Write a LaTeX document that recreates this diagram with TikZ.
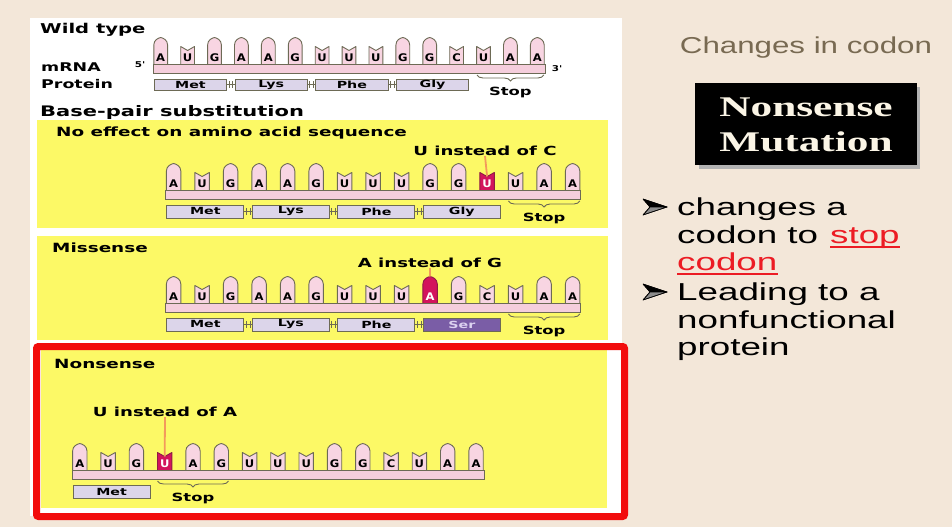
\documentclass[tikz,border=0pt]{standalone}
\usepackage{fontspec}
\usepackage{graphicx}
\setmainfont{Liberation Sans}
\newfontfamily\figfont{DejaVu Sans}
\newfontfamily\titleserif{Liberation Serif}
\usetikzlibrary{decorations.pathreplacing}

\definecolor{pagebg}{HTML}{F3E7D9}
\definecolor{panelyellow}{HTML}{FCF966}
\definecolor{framered}{HTML}{F20D0D}
\definecolor{ntpink}{HTML}{F8D5E2}
\definecolor{barpink}{HTML}{F5CEDC}
\definecolor{ntedge}{HTML}{6D6A55}
\definecolor{protfill}{HTML}{DCD5EA}
\definecolor{serfill}{HTML}{7A5DA6}
\definecolor{sertext}{HTML}{DCD2F0}
\definecolor{hotbase}{HTML}{D3145C}
\definecolor{hotedge}{HTML}{8E1B45}
\definecolor{pointer}{HTML}{F39A5C}
\definecolor{headbrown}{HTML}{786A52}
\definecolor{stopred}{HTML}{EC1C24}
\definecolor{cream}{HTML}{FBF5E6}

% horizontal stretch of a piece of text
\newcommand{\sx}[2]{\scalebox{#1}[1]{#2}}

\tikzset{
  figbold/.style={inner sep=0pt, font=\figfont\bfseries\fontsize{#1}{#1}\selectfont},
  header/.style={figbold=13.5, anchor=west},
  rowlab/.style={figbold=12, anchor=west},
  paneltitle/.style={figbold=12.7, anchor=west},
  ptrlab/.style={figbold=12.5},
  endlab/.style={figbold=8},
  ntletter/.style={figbold=10.5},
  stoplab/.style={figbold=11.3},
  ntline/.style={line width=0.9pt, line join=round},
  barline/.style={draw=ntedge, fill=barpink, line width=0.9pt},
  protbox/.style={draw=ntedge, fill=protfill, line width=0.9pt, inner sep=0pt,
                  font=\figfont\bfseries\fontsize{9.8}{9.8}\selectfont},
  serbox/.style={protbox, fill=serfill, text=sertext},
  link/.style={draw=ntedge, line width=0.8pt},
  stopbrace/.style={draw=ntedge, line width=0.9pt, decorate,
                    decoration={brace, amplitude=6pt}},
  pointerline/.style={draw=pointer, line width=1.8pt},
  bullettext/.style={inner sep=0pt, anchor=base west,
                     font=\fontsize{24.5}{28}\selectfont},
  arrowtop/.style={fill=black, draw=black, line width=0.6pt, line join=round},
  arrowlow/.style={fill=black!45, draw=black, line width=0.6pt, line join=round},
}

% one mRNA strand: #1 prefix, #2 first centre x, #3 pitch, #4 bar top y,
% #5 half width of a base, #6 highlighted base (0 = none), #7 letter/type list
\newcommand{\strand}[7]{%
  \foreach \ntl/\ty [count=\i] in {#7} {%
    \pgfmathsetmacro{\cx}{#2+(\i-1)*#3}%
    \ifnum\i=#6\relax
      \def\ntfill{hotbase}\def\ntdraw{hotedge}\def\nttext{white}%
    \else
      \def\ntfill{ntpink}\def\ntdraw{ntedge}\def\nttext{black}%
    \fi
    \ifnum\ty=1\relax
      \draw[ntline, draw=\ntdraw, fill=\ntfill] ({\cx-#5},#4) -- ({\cx-#5},#4-19)
        .. controls ({\cx-#5},#4-24) and ({\cx-2.5},#4-26) .. (\cx,#4-26.5)
        .. controls ({\cx+2.5},#4-26) and ({\cx+#5},#4-24) .. ({\cx+#5},#4-19)
        -- ({\cx+#5},#4);
      \coordinate (#1-\i) at (\cx,#4-26.5);
    \else
      \draw[ntline, draw=\ntdraw, fill=\ntfill] ({\cx-#5},#4) -- ({\cx-#5},#4-17.5)
        -- (\cx,#4-13.5) -- ({\cx+#5},#4-17.5) -- ({\cx+#5},#4);
      \coordinate (#1-\i) at (\cx,#4-13.5);
    \fi
    \node[ntletter, text=\nttext] (#1-t\i) at (\cx,#4-6.3) {\sx{1.1}{\ntl}};
  }%
  \draw[barline] ({#2-#5-0.5},#4) rectangle ({#2+14*#3+#5+1},#4+9);
}

% row of amino-acid boxes: #1 prefix, #2 left x, #3 codon pitch, #4 top y,
% #5 box width, #6 box height, #7 name/style list
\newcommand{\protrow}[7]{%
  \foreach \nm/\st [count=\k] in {#7} {%
    \node[\st, minimum width=#5pt, minimum height=#6pt, anchor=north west]
      (#1-c\k) at ({#2+(\k-1)*#3},#4) {\sx{1.45}{\nm}};
    \ifnum\k>1\relax
      \pgfmathtruncatemacro{\prev}{\k-1}%
      \draw[link] (#1-c\prev.east) -- (#1-c\k.west);
      \draw[link] ([xshift=1.8pt]#1-c\prev.east) ++(0,-3.5) -- ++(0,7);
      \draw[link] ([xshift=-1.8pt]#1-c\k.west) ++(0,-3.5) -- ++(0,7);
    \fi
  }%
}

% bevelled arrowhead bullet centred at (#1,#2)
\newcommand{\arrowbullet}[2]{%
  \fill[arrowtop] (#1-12,#2-8) -- (#1+12,#2) -- (#1-5,#2) -- cycle;
  \fill[arrowlow] (#1-12,#2+8) -- (#1+12,#2) -- (#1-5,#2) -- cycle;
  \draw[arrowtop, fill=none] (#1-12,#2-8) -- (#1+12,#2) -- (#1-12,#2+8) -- (#1-5,#2) -- cycle;
}

\begin{document}
\begin{tikzpicture}[x=1pt,y=-1pt]
\useasboundingbox (0,0) rectangle (952,527);

% page, figure card and coloured panels
\fill[pagebg] (0,0) rectangle (952,527);
\fill[white] (30,18) rectangle (622,516);
\fill[panelyellow] (37,120) rectangle (608,228);
\fill[panelyellow] (37,236) rectangle (608,340);
\fill[panelyellow] (41,350) rectangle (607,508);
\draw[framered, line width=7pt, rounded corners=2pt] (36.5,346.5) rectangle (624.5,516.5);

% ---------- wild type ----------
\node[header] (wt) at (40,30) {\sx{1.45}{Wild type}};
\node[rowlab] (mrna) at (41,67) {\sx{1.45}{mRNA}};
\node[rowlab] (prot) at (41,84) {\sx{1.45}{Protein}};
\node[endlab] (five) at (140,65) {\sx{1.3}{5'}};
\node[endlab] (three) at (557,69) {\sx{1.3}{3'}};
\strand{w}{160.7}{26.9}{64}{6.9}{0}{A/1,U/0,G/1,A/1,A/1,G/1,U/0,U/0,U/0,G/1,G/1,C/0,U/0,A/1,A/1}
\protrow{wp}{153.8}{80.7}{78.5}{72.5}{11.5}{Met/protbox,Lys/protbox,Phe/protbox,Gly/protbox}
\draw[stopbrace] (543.8,75) -- (477,75);
\node[stoplab] (wstop) at (510.4,92) {\sx{1.45}{Stop}};

\node[header, font=\figfont\bfseries\fontsize{14.5}{14.5}\selectfont] (bps) at (40,112) {\sx{1.45}{Base-pair substitution}};

% ---------- silent ----------
\node[paneltitle] (silent) at (56,133) {\sx{1.45}{No effect on amino acid sequence}};
\node[ptrlab] (lab1) at (485,151) {\sx{1.45}{U instead of C}};
\strand{p}{173.6}{28.5}{190}{7.2}{12}{A/1,U/0,G/1,A/1,A/1,G/1,U/0,U/0,U/0,G/1,G/1,U/0,U/0,A/1,A/1}
\draw[pointerline] (lab1.south) -- (p-12);
\protrow{pp}{166.4}{85.5}{204.5}{77}{13}{Met/protbox,Lys/protbox,Phe/protbox,Gly/protbox}
\draw[stopbrace] (579.8,201) -- (508.4,201);
\node[stoplab] (pstop) at (544.1,218) {\sx{1.45}{Stop}};

% ---------- missense ----------
\node[paneltitle] (mis) at (52,248) {\sx{1.45}{Missense}};
\node[ptrlab] (lab2) at (430,263) {\sx{1.45}{A instead of G}};
\strand{q}{173.6}{28.5}{303}{7.2}{10}{A/1,U/0,G/1,A/1,A/1,G/1,U/0,U/0,U/0,A/1,G/1,C/0,U/0,A/1,A/1}
\draw[pointerline] (lab2.south) -- (q-10);
\protrow{qp}{166.4}{85.5}{317.5}{77}{13}{Met/protbox,Lys/protbox,Phe/protbox,Ser/serbox}
\draw[stopbrace] (579.8,314) -- (508.4,314);
\node[stoplab] (qstop) at (544.1,331) {\sx{1.45}{Stop}};

% ---------- nonsense ----------
\node[paneltitle] (non) at (54,364) {\sx{1.45}{Nonsense}};
\node[ptrlab] (lab3) at (165,412) {\sx{1.45}{U instead of A}};
\strand{r}{79.8}{28.3}{470}{7.2}{4}{A/1,U/0,G/1,U/0,A/1,G/1,U/0,U/0,U/0,G/1,G/1,C/0,U/0,A/1,A/1}
\draw[pointerline] (lab3.south) -- (r-4);
\protrow{rp}{72.6}{84.9}{484.5}{77}{13.5}{Met/protbox}
\draw[stopbrace] (228.5,481) -- (157.5,481);
\node[stoplab] (rstop) at (193,498) {\sx{1.45}{Stop}};

% ---------- side notes ----------
\node[inner sep=0pt, text=headbrown, font=\fontsize{23}{25}\selectfont] (chg) at (806,48) {\sx{1.36}{Changes in codon}};
\fill[black!30] (698.5,86.5) rectangle (920,168.5);
\node[fill=black, minimum width=222pt, minimum height=82pt, inner sep=0pt] (nmbox) at (806,124) {};
\node[inner sep=0pt, text=cream, font=\titleserif\bfseries\fontsize{28.5}{29}\selectfont] (nm1) at (806,107) {\sx{1.52}{Nonsense}};
\node[inner sep=0pt, text=cream, font=\titleserif\bfseries\fontsize{28.5}{29}\selectfont] (nm2) at (806,142) {\sx{1.52}{Mutation}};

\arrowbullet{655}{207}
\node[bullettext] (l1) at (677,215) {\sx{1.5}{changes a}};
\node[bullettext] (l2a) at (677,243.3) {\sx{1.5}{codon to}};
\node[bullettext, text=stopred] (l2b) at (830,243.3) {\sx{1.5}{stop}};
\node[bullettext, text=stopred] (l3) at (677,270.7) {\sx{1.5}{codon}};
\draw[stopred, line width=1.6pt] ([yshift=-3.4pt]l2b.base west) -- ([yshift=-3.4pt]l2b.base east);
\draw[stopred, line width=1.6pt] ([yshift=-3.4pt]l3.base west) -- ([yshift=-3.4pt]l3.base east);
\arrowbullet{655}{292}
\node[bullettext] (l4) at (677,300) {\sx{1.5}{Leading to a}};
\node[bullettext] (l5) at (677,328.3) {\sx{1.5}{nonfunctional}};
\node[bullettext] (l6) at (677,355) {\sx{1.5}{protein}};
\end{tikzpicture}
\end{document}
